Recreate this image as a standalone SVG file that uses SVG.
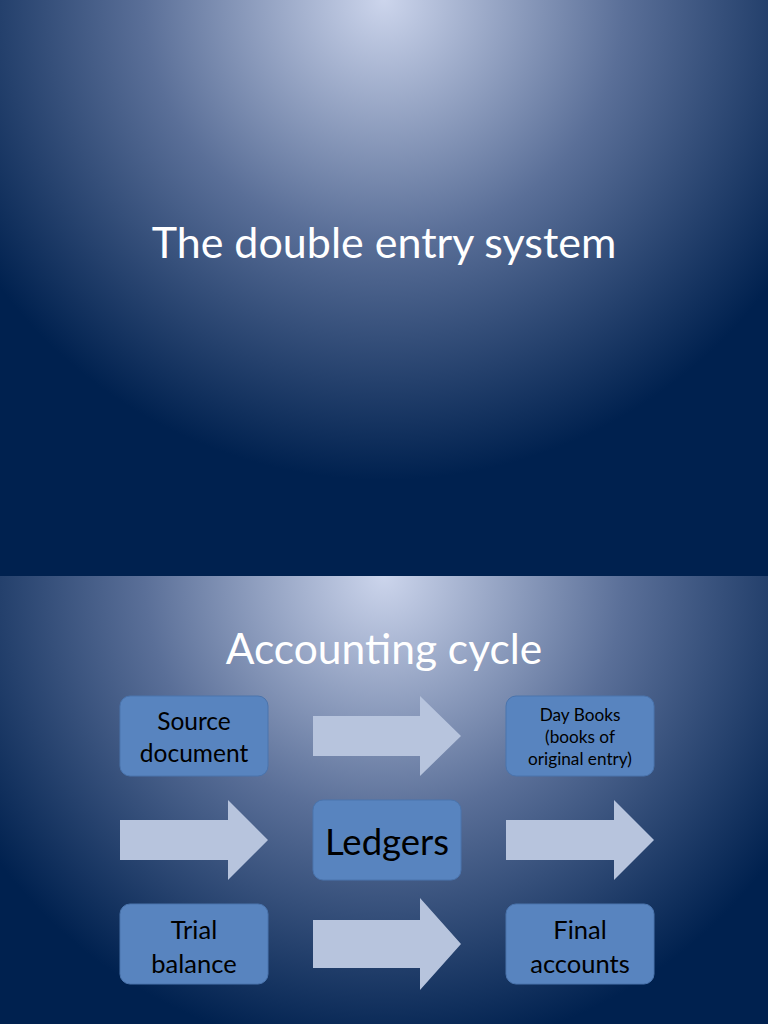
<svg xmlns="http://www.w3.org/2000/svg" width="768" height="1024" viewBox="0 0 768 1024">
<style>
.t{font-family:Lato,"Open Sans",sans-serif;fill:#fff;text-anchor:middle}
.b{fill:#5884bf;stroke:#4a74ad;stroke-width:1}
.bt{font-family:Lato,"Open Sans",sans-serif;fill:#000;text-anchor:middle}
.a{fill:#b7c4dd}
</style>
<defs>
<radialGradient id="g1" gradientUnits="userSpaceOnUse" cx="384" cy="0" r="480">
<stop offset="0" stop-color="#ccd5ec"/>
<stop offset="0.5" stop-color="#5a6f98"/>
<stop offset="1" stop-color="#00214f"/>
</radialGradient>
<radialGradient id="g2" gradientUnits="userSpaceOnUse" cx="384" cy="576" r="480">
<stop offset="0" stop-color="#ccd5ec"/>
<stop offset="0.5" stop-color="#5a6f98"/>
<stop offset="1" stop-color="#00214f"/>
</radialGradient>
</defs>
<rect x="0" y="0" width="768" height="576" fill="url(#g1)"/>
<rect x="0" y="576" width="768" height="448" fill="url(#g2)"/>
<text class="t" x="384" y="258" font-size="43">The double entry system</text>
<text class="t" x="384" y="664" font-size="42.5">Accounting cycle</text>
<g id="connectors">
<polygon class="a" points="313,716 420,716 420,696 461,736 420,776 420,756 313,756"/>
<polygon class="a" points="120,820 228,820 228,800 268,840 228,880 228,860 120,860"/>
<polygon class="a" points="506,820 614,820 614,800 654,840 614,880 614,860 506,860"/>
<polygon class="a" points="313,920 420,920 420,898 461,944 420,990 420,968 313,968"/>
</g>
<g id="source"><rect class="b" x="120" y="696" width="148" height="80" rx="10"/>
<text class="bt" x="194" y="730" font-size="24.5">Source</text><text class="bt" x="194" y="762" font-size="24.5">document</text></g>
<g id="daybooks"><rect class="b" x="506" y="696" width="148" height="80" rx="10"/>
<text class="bt" x="580" y="721" font-size="17.2">Day Books</text><text class="bt" x="580" y="743" font-size="17.2">(books of</text><text class="bt" x="580" y="765" font-size="17.2">original entry)</text></g>
<g id="ledgers"><rect class="b" x="313" y="800" width="148" height="80" rx="10"/>
<text class="bt" x="387" y="855" font-size="36.5">Ledgers</text></g>
<g id="trial"><rect class="b" x="120" y="904" width="148" height="80" rx="10"/>
<text class="bt" x="194" y="939" font-size="25.5">Trial</text><text class="bt" x="194" y="973" font-size="25.5">balance</text></g>
<g id="final"><rect class="b" x="506" y="904" width="148" height="80" rx="10"/>
<text class="bt" x="580" y="939" font-size="25.5">Final</text><text class="bt" x="580" y="973" font-size="25.5">accounts</text></g>
</svg>
